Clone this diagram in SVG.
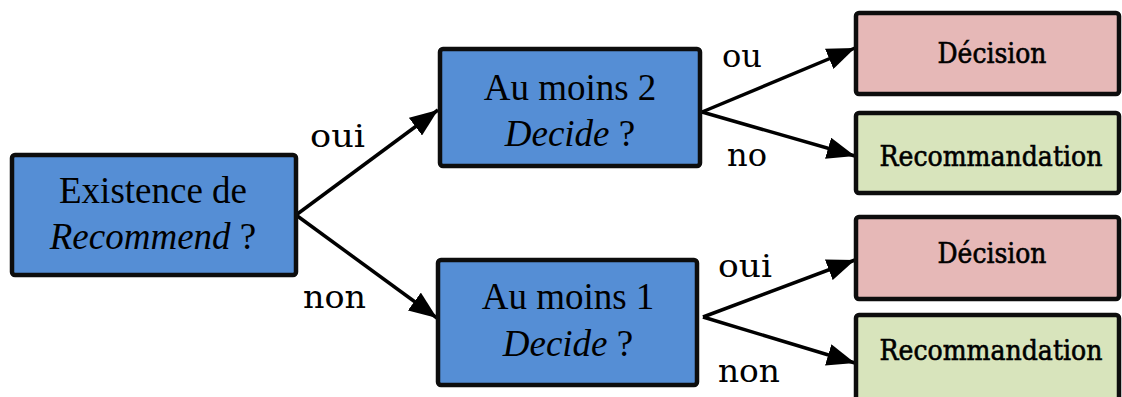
<svg xmlns="http://www.w3.org/2000/svg" width="1122" height="397" viewBox="0 0 1122 397">
<defs>
<marker id="ah" markerUnits="userSpaceOnUse" markerWidth="28" markerHeight="22" viewBox="0 0 28 22" refX="28" refY="11" orient="auto">
<path d="M0,0 L28,11 L0,22 Z" fill="#000"/>
</marker>
<style>
.q{fill:#558ED5;stroke:#0d0d0d;stroke-width:4.5}
.d{fill:#E6B8B7;stroke:#0d0d0d;stroke-width:4.5}
.r{fill:#D8E4BC;stroke:#0d0d0d;stroke-width:4.5}
.t{font-family:"Liberation Serif",serif;font-size:37px;fill:#000;text-anchor:middle}
.i{font-style:italic}
.s{font-family:"DejaVu Serif",serif;font-size:27px;fill:#000;stroke:#000;stroke-width:0.6;text-anchor:middle}
.l{font-family:"DejaVu Serif",serif;font-size:31px;fill:#000}
.c{fill:none;stroke:#000;stroke-width:3.5}
</style>
</defs>
<g id="connectors">
<line class="c" x1="296" y1="215" x2="438" y2="110" marker-end="url(#ah)"/>
<line class="c" x1="296" y1="215" x2="437" y2="318" marker-end="url(#ah)"/>
<line class="c" x1="702" y1="112" x2="855" y2="48" marker-end="url(#ah)"/>
<line class="c" x1="702" y1="112" x2="855" y2="156" marker-end="url(#ah)"/>
<line class="c" x1="703" y1="317" x2="855" y2="260" marker-end="url(#ah)"/>
<line class="c" x1="703" y1="317" x2="855" y2="363" marker-end="url(#ah)"/>
<text class="l" x="310" y="147" textLength="55" lengthAdjust="spacingAndGlyphs">oui</text>
<text class="l" x="303" y="308" textLength="63" lengthAdjust="spacingAndGlyphs">non</text>
<text class="l" x="722" y="67" textLength="40" lengthAdjust="spacingAndGlyphs">ou</text>
<text class="l" x="727" y="166" textLength="40" lengthAdjust="spacingAndGlyphs">no</text>
<text class="l" x="718" y="277" textLength="54" lengthAdjust="spacingAndGlyphs">oui</text>
<text class="l" x="718" y="382" textLength="62" lengthAdjust="spacingAndGlyphs">non</text>
</g>
<g id="n-existence">
<rect class="q" x="12" y="155" width="284" height="120" rx="3"/>
<text class="t" x="153" y="203">Existence de</text>
<text class="t" x="153" y="249"><tspan class="i">Recommend</tspan> ?</text>
</g>
<g id="n-moins2">
<rect class="q" x="440" y="49" width="260" height="117" rx="3"/>
<text class="t" x="570" y="100">Au moins 2</text>
<text class="t" x="570" y="146"><tspan class="i">Decide</tspan> ?</text>
</g>
<g id="n-moins1">
<rect class="q" x="438" y="260" width="259" height="125" rx="3"/>
<text class="t" x="568" y="309">Au moins 1</text>
<text class="t" x="568" y="356"><tspan class="i">Decide</tspan> ?</text>
</g>
<g id="n-decision1">
<rect class="d" x="856" y="13" width="263" height="81" rx="3"/>
<text class="s" x="992" y="63" textLength="109" lengthAdjust="spacingAndGlyphs">Décision</text>
</g>
<g id="n-recommandation1">
<rect class="r" x="856" y="113" width="263" height="80" rx="3"/>
<text class="s" x="991" y="166" textLength="223" lengthAdjust="spacingAndGlyphs">Recommandation</text>
</g>
<g id="n-decision2">
<rect class="d" x="856" y="217" width="263" height="82" rx="3"/>
<text class="s" x="992" y="263" textLength="109" lengthAdjust="spacingAndGlyphs">Décision</text>
</g>
<g id="n-recommandation2">
<rect class="r" x="856" y="315" width="263" height="85" rx="3"/>
<text class="s" x="991" y="360" textLength="223" lengthAdjust="spacingAndGlyphs">Recommandation</text>
</g>
</svg>
